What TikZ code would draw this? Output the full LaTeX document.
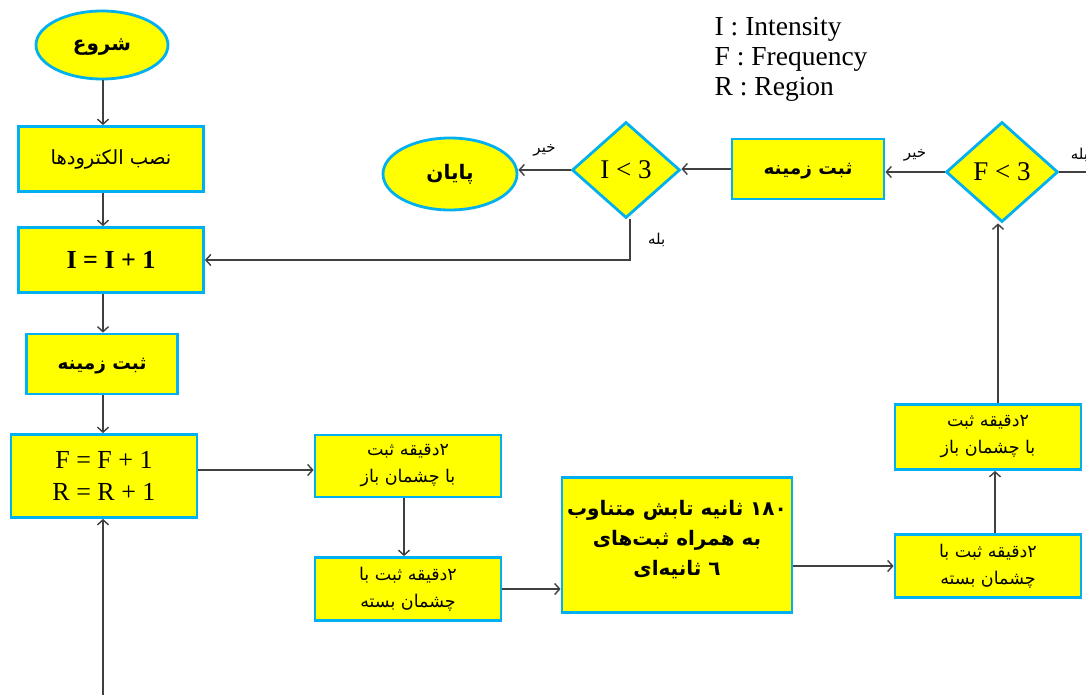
\documentclass[tikz,border=0pt]{standalone}
\usepackage{fontspec}
\setmainfont{Liberation Serif}
\newfontfamily\farsi[Script=Arabic]{DejaVu Sans}
\TeXXeTstate=1
\usepackage{tikz}
\usetikzlibrary{arrows,arrows.meta,shapes.geometric}
\definecolor{boxfill}{HTML}{FFFF00}
\definecolor{boxline}{HTML}{00B0F0}
\definecolor{flow}{HTML}{404040}
\newcommand\fa[1]{\beginR #1\endR}

\begin{document}
\begin{tikzpicture}[x=1pt,y=-1pt,->,>={Straight Barb[length=5pt,width=11pt]},flow,line width=1.4pt,
  box node/.style={rectangle,draw=boxline,fill=boxfill,line width=2.8pt,text=black,inner sep=0pt,align=center},
  end node/.style={ellipse,draw=boxline,fill=boxfill,line width=2.8pt,text=black,inner sep=0pt,
    text height=15pt,text depth=3pt,font=\farsi\bfseries\fontsize{20}{24}\selectfont},
  test node/.style={diamond,draw=boxline,fill=boxfill,line width=2.8pt,text=black,inner sep=0pt,
    font=\fontsize{27}{30}\selectfont},
  latin/.style={font=\fontsize{26}{32}\selectfont},
  small fa/.style={font=\farsi\fontsize{17.5}{27}\selectfont},
  bold fa/.style={text height=14pt,text depth=3pt,font=\farsi\bfseries\fontsize{18.5}{22}\selectfont},
  answer/.style={text=black,font=\farsi\fontsize{15}{17}\selectfont}]

  \useasboundingbox[fill=white,draw=none] (0,0) rectangle (1086,695);
  \clip (0,0) rectangle (1086,695);

  % left column
  \node[end node,minimum width=132pt,minimum height=68pt] (start) at (102,45) {\fa{شروع}};
  \node[box node,text height=14pt,text depth=3pt,font=\farsi\fontsize{19.5}{24}\selectfont,minimum width=185pt,minimum height=65pt] (electrodes) at (111,159) {\fa{نصب الکترودها}};
  \node[box node,font=\bfseries\fontsize{26}{30}\selectfont,minimum width=185pt,minimum height=65pt] (incI) at (111,260) {I = I + 1};
  \node[box node,bold fa,minimum width=151pt,minimum height=60pt] (base1) at (102,364) {\fa{ثبت زمینه}};
  \node[box node,latin,minimum width=186pt,minimum height=83pt] (incFR) at (104,476) {F = F + 1\\R = R + 1};

  % recordings
  \node[box node,small fa,minimum width=186pt,minimum height=62pt] (open1) at (408,466) {\fa{۲دقیقه ثبت}\\\fa{با چشمان باز}};
  \node[box node,small fa,minimum width=186pt,minimum height=63pt] (closed1) at (408,589) {\fa{۲دقیقه ثبت با}\\\fa{چشمان بسته}};
  \node[box node,font=\farsi\bfseries\fontsize{20}{30}\selectfont,minimum width=230pt,minimum height=135pt] (stim) at (677,545)
    {\fa{۱۸۰ ثانیه تابش متناوب}\\\fa{به همراه ثبت‌های}\\\fa{٦ ثانیه‌ای}\\[-16pt]};
  \node[box node,small fa,minimum width=186pt,minimum height=63pt] (closed2) at (988,566) {\fa{۲دقیقه ثبت با}\\\fa{چشمان بسته}};
  \node[box node,small fa,minimum width=186pt,minimum height=65pt] (open2) at (988,437) {\fa{۲دقیقه ثبت}\\\fa{با چشمان باز}};

  % tests
  \node[test node,minimum width=112pt,minimum height=100pt] (decF) at (1002,172) {F < 3};
  \node[box node,bold fa,minimum width=152pt,minimum height=60pt] (base2) at (808,169) {\fa{ثبت زمینه}};
  \node[test node,minimum width=108pt,minimum height=96pt] (decI) at (626,170) {I < 3};
  \node[end node,minimum width=134pt,minimum height=72pt] (finish) at (450,174) {\fa{پایان}};

  \node[text=black,align=left,anchor=north west,inner sep=0pt,font=\fontsize{27.5}{30}\selectfont] (legend) at (714,17)
    {I : Intensity\\F : Frequency\\R : Region};

  \coordinate (loopin) at (103,695);
  \coordinate (rightin) at (1086,172);

  \draw (start.south -| 103,0) -- (electrodes.north -| 103,0);
  \draw (electrodes.south -| 103,0) -- (incI.north -| 103,0);
  \draw (incI.south -| 103,0) -- (base1.north -| 103,0);
  \draw (base1.south -| 103,0) -- (incFR.north -| 103,0);
  \draw (loopin) -- (incFR.south -| loopin);
  \draw (incFR.east |- 0,470) -- (open1.west |- 0,470);
  \draw (open1.south -| 404,0) -- (closed1.north -| 404,0);
  \draw (closed1.east) -- (closed1.east -| stim.west);
  \draw (stim.east |- closed2.west) -- (closed2.west);
  \draw (closed2.north -| 995,0) -- (open2.south -| 995,0);
  \draw (open2.north -| 998,0) -- (decF.south -| 998,0);
  \draw[-] (rightin) -- (decF.east) node[answer,pos=0.25,above=6pt] {\fa{بله}};
  \draw (decF.west) -- (base2.east |- decF.west) node[answer,midway,above=7pt] {\fa{خیر}};
  \draw (base2.west) -- (decI.east |- base2.west);
  \draw (decI.west) -- (finish.east |- decI.west) node[answer,midway,above=10pt] {\fa{خیر}};
  \draw (decI.south -| 630,0) |- (incI.east |- 0,260) node[answer,pos=0.25,right=14pt] {\fa{بله}};
\end{tikzpicture}
\end{document}
